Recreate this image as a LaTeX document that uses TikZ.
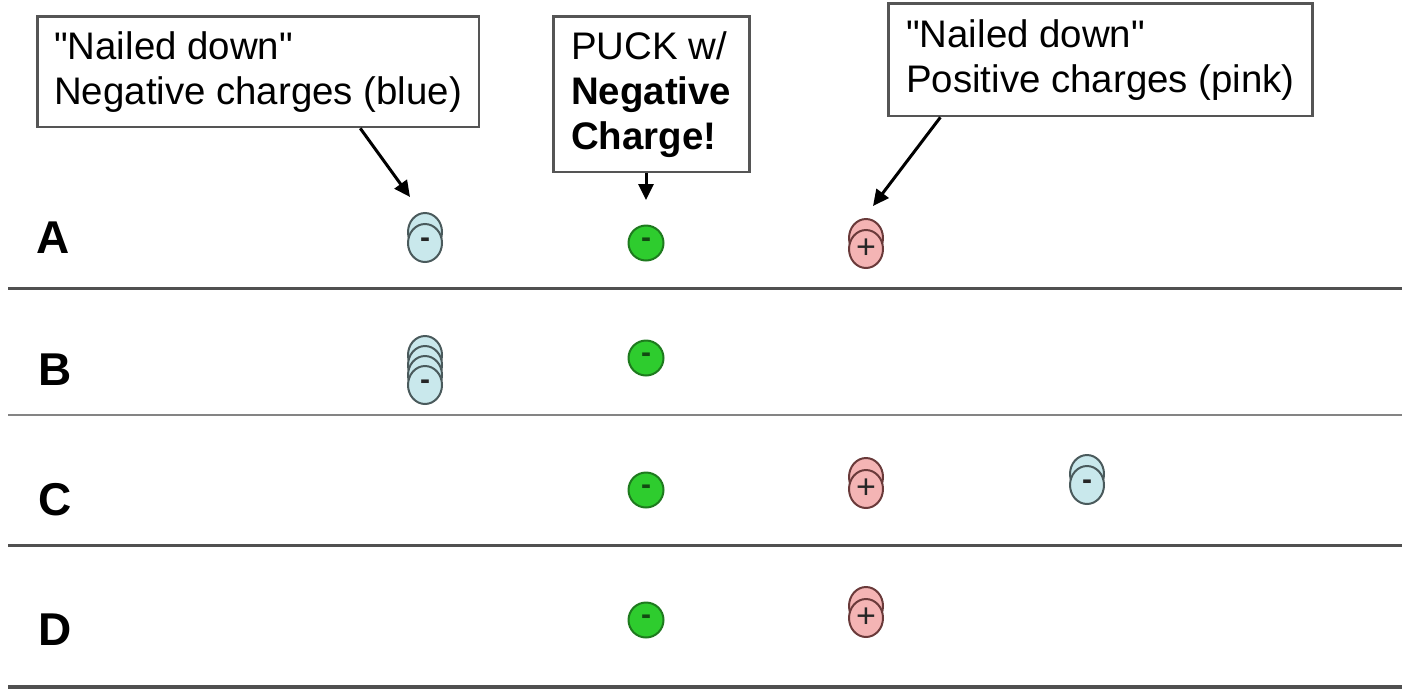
\documentclass[tikz,border=0pt]{standalone}
\usepackage{fontspec}
\setmainfont{Liberation Sans}[Ligatures=TeXOff]
\usetikzlibrary{arrows.meta,shapes.geometric,calc}
\definecolor{boxline}{HTML}{555555}
\definecolor{bluefill}{HTML}{C9E8EC}
\definecolor{blueline}{HTML}{4A5A5C}
\definecolor{greenfill}{HTML}{2ECC2E}
\definecolor{greenline}{HTML}{1E7A1E}
\definecolor{pinkfill}{HTML}{F4B4B4}
\definecolor{pinkline}{HTML}{6A3A3A}
\definecolor{rule}{HTML}{505050}
\begin{document}
\begin{tikzpicture}[x=1pt,y=-1pt,
  callout/.style={draw=boxline,line width=2.5pt,fill=white,align=left,anchor=north west,
    inner xsep=17pt,inner ysep=15pt,font=\fontsize{38.4}{45}\selectfont},
  rowlabel/.style={anchor=base west,font=\fontsize{46}{50}\selectfont\bfseries,inner sep=0pt},
  disk/.style={ellipse,minimum width=34pt,minimum height=38pt,inner sep=0pt,line width=2pt},
  bluedisk/.style={disk,draw=blueline,fill=bluefill,text=black!85,font=\fontsize{30}{30}\selectfont\bfseries},
  pinkdisk/.style={disk,draw=pinkline,fill=pinkfill,text=black!85,font=\fontsize{34}{34}\selectfont},
  greendisk/.style={circle,minimum size=35pt,inner sep=0pt,line width=2pt,draw=greenline,fill=greenfill,
    text=greenline!60!black,font=\fontsize{30}{30}\selectfont\bfseries},
  arr/.style={line width=3pt,-{Triangle[length=16pt,width=15pt]}},
  sep/.style={rule,line width=3pt}]
\useasboundingbox (0,0) rectangle (1402,691);
% separators
\draw[sep] (8,288) -- (1402,288);
\draw[sep,color=rule!70,line width=2.5pt] (8,415) -- (1402,415);
\draw[sep] (8,545) -- (1402,545);
\draw[sep,line width=4.5pt] (8,687) -- (1402,687);
% row labels
\node[rowlabel] (lA) at (36,253) {A};
\node[rowlabel] (lB) at (38,385) {B};
\node[rowlabel] (lC) at (38,515) {C};
\node[rowlabel] (lD) at (38,645) {D};
% callouts
\node[callout] (b1) at (36,15) {"Nailed down"\\Negative charges (blue)};
\node[callout,inner xsep=18pt,inner ysep=15pt] (b2) at (552,15) {PUCK w/\\\textbf{Negative}\\\textbf{Charge!}};
\node[callout,inner xsep=18pt,inner ysep=16pt] (b3) at (887,2) {"Nailed down"\\Positive charges (pink)};
% row A
\node[bluedisk] (bA2) at (425,232) {};
\node[bluedisk] (bA1) at (425,243) {-};
\node[greendisk] (gA) at (646,243) {-};
\node[pinkdisk] (pA2) at (866,238) {};
\node[pinkdisk] (pA1) at (866,249) {+};
% row B
\node[bluedisk] (bB4) at (425,355) {};
\node[bluedisk] (bB3) at (425,365) {};
\node[bluedisk] (bB2) at (425,375) {};
\node[bluedisk] (bB1) at (425,385) {-};
\node[greendisk] (gB) at (646,358) {-};
% row C
\node[greendisk] (gC) at (646,490) {-};
\node[pinkdisk] (pC2) at (866,477) {};
\node[pinkdisk] (pC1) at (866,489) {+};
\node[bluedisk] (bC2) at (1087,474) {};
\node[bluedisk] (bC1) at (1087,485) {-};
% row D
\node[greendisk] (gD) at (646,620) {-};
\node[pinkdisk] (pD2) at (866,606) {};
\node[pinkdisk] (pD1) at (866,618) {+};
% arrows
\coordinate (s1) at ($(b1.south west)!0.73!(b1.south east)$);
\coordinate (t1) at (410,197);
\draw[arr] (s1) -- (t1);
\coordinate (s2) at (b2.south -| gA);
\coordinate (t2) at (646,200);
\draw[arr] (s2) -- (t2);
\coordinate (s3) at ($(b3.south west)!0.125!(b3.south east)$);
\coordinate (t3) at (873,206);
\draw[arr] (s3) -- (t3);
\end{tikzpicture}
\end{document}
